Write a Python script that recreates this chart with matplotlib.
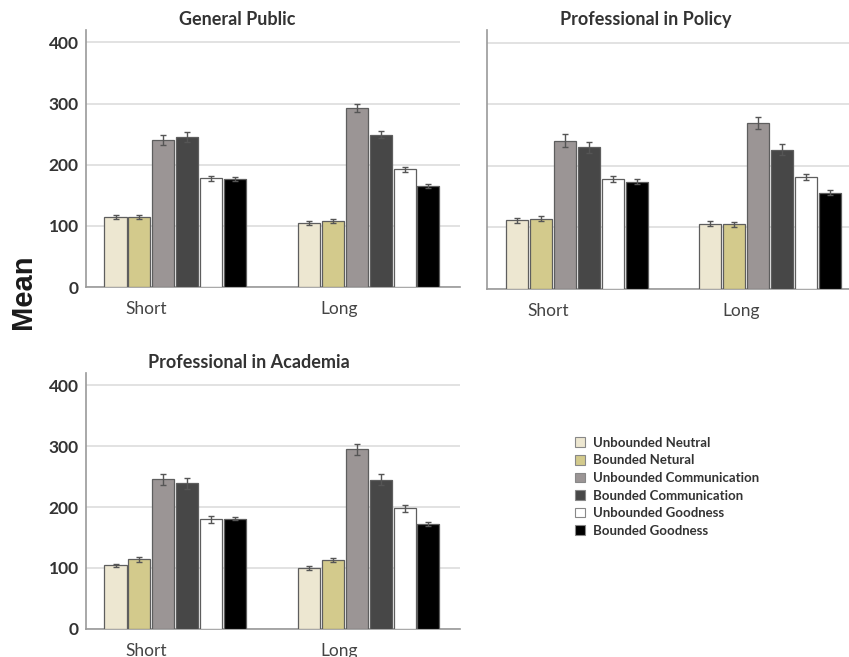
import numpy as np
import matplotlib
matplotlib.use("Agg")
import matplotlib.pyplot as plt
from matplotlib.patches import Patch

groups = ["Short", "Long"]
series = ["Unbounded Neutral", "Bounded Netural", "Unbounded Communication",
          "Bounded Communication", "Unbounded Goodness", "Bounded Goodness"]
colors = ["#ede7d1", "#d3ca8c", "#9b9595", "#474747", "#ffffff", "#000000"]

# means per panel: rows = series, cols = (Short, Long)
general_public = [[115, 105], [115, 108], [240, 293], [245, 249], [178, 193], [177, 165]]
policy = [[112, 106], [114, 105], [241, 270], [230, 226], [178, 182], [174, 156]]
academia = [[104, 100], [114, 113], [246, 295], [239, 245], [180, 198], [181, 172]]

# standard errors
general_public_err = [[3, 3], [3, 3], [8, 7], [8, 6], [4, 4], [3, 3]]
policy_err = [[4, 4], [4, 4], [10, 10], [9, 9], [5, 5], [4, 4]]
academia_err = [[3, 3], [4, 4], [9, 9], [9, 9], [6, 6], [3, 3]]

panels = [
    ("General Public", general_public, general_public_err, True),
    ("Professional in Policy", policy, policy_err, False),
    ("Professional in Academia", academia, academia_err, True),
]

plt.rcParams["font.family"] = ["Lato", "DejaVu Sans"]

fig = plt.figure(figsize=(8.49, 6.57), dpi=100)
rects = [
    [0.101, 0.563, 0.441, 0.391],
    [0.574, 0.560, 0.441, 0.394],
    [0.101, 0.043, 0.441, 0.389],
]
title_x = [0.404, 0.422, 0.436]

pitch = 0.124
width = 0.114
x = np.arange(len(groups))

for (title, means, errs, show_y), rect, tx in zip(panels, rects, title_x):
    ax = fig.add_axes(rect)
    for i, (m, e) in enumerate(zip(means, errs)):
        offs = (i - 2.5) * pitch
        ax.bar(x + offs, m, width, color=colors[i], edgecolor="#5e5e5e",
               linewidth=0.9, zorder=3)
        ax.errorbar(x + offs, m, yerr=e, fmt="none", ecolor="#555555",
                    elinewidth=1.0, capsize=2.5, capthick=1.0, zorder=4)
    ax.set_xlim(-0.464, 1.474)
    ax.set_ylim(0, 420)
    ax.set_yticks([0, 100, 200, 300, 400])
    ax.yaxis.grid(True, color="#dddddd", linewidth=1.2, zorder=0)
    ax.set_axisbelow(True)
    for s in ["top", "right"]:
        ax.spines[s].set_visible(False)
    for s in ["left", "bottom"]:
        ax.spines[s].set_color("#999999")
        ax.spines[s].set_linewidth(1.2)
    ax.set_xticks(x - 0.15)
    ax.set_xticklabels(groups, fontsize=12.5, color="#444444")
    ax.tick_params(axis="both", length=0)
    ax.tick_params(axis="x", pad=10)
    ax.tick_params(axis="y", pad=5)
    if show_y:
        for lbl in ax.get_yticklabels():
            lbl.set_fontweight("bold")
            lbl.set_fontsize(12.5)
            lbl.set_color("#333333")
    else:
        ax.set_yticklabels([])
    ax.set_title(title, x=tx, fontsize=13, fontweight="bold", color="#333333", pad=4)

fig.text(0.027, 0.556, "Mean", rotation=90, ha="center", va="center",
         fontsize=21, fontweight="bold", color="#1a1a1a", family="Liberation Sans")

handles = [Patch(facecolor=c, edgecolor="#888888", linewidth=0.8) for c in colors]
fig.legend(handles, series, loc="upper left", bbox_to_anchor=(0.677, 0.335),
           frameon=False, borderpad=0, borderaxespad=0, handlelength=0.75,
           handleheight=0.75, handletextpad=0.6, labelspacing=0.42,
           prop={"family": "Lato", "weight": "bold", "size": 9.5},
           labelcolor="#333333")

fig.savefig("out.png", dpi=100)
